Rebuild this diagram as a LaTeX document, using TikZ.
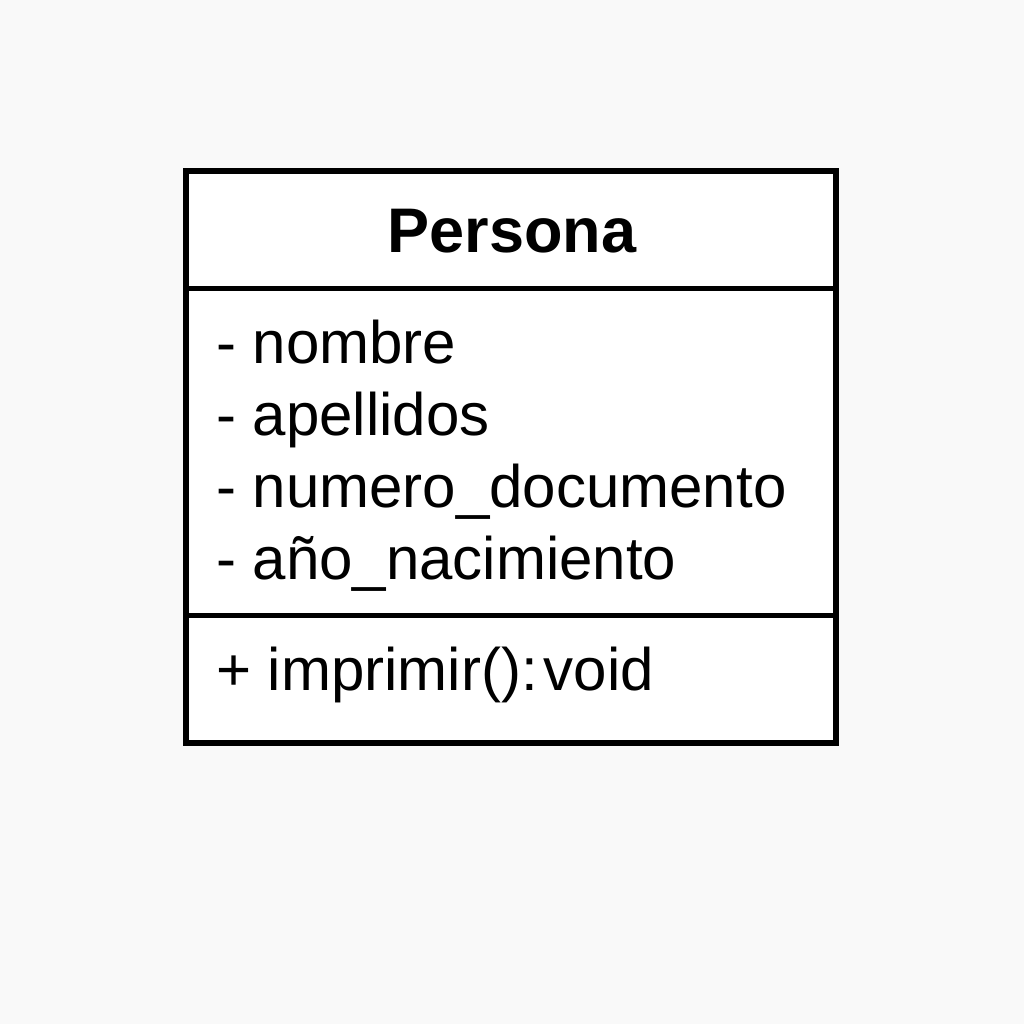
\documentclass[tikz,border=0pt]{standalone}
\usepackage{fontspec}
\setmainfont{Liberation Sans}
\definecolor{bgcol}{HTML}{F9F9F9}
\tikzset{
  part/.style={draw=black, line width=5.5pt, fill=white, minimum width=650pt, inner sep=0pt, outer sep=0pt},
  attr/.style={anchor=base west, inner sep=0pt, font=\fontsize{60}{72}\selectfont},
  title/.style={anchor=base, inner sep=0pt, font=\fontsize{63}{75}\selectfont\bfseries}
}
\begin{document}
\begin{tikzpicture}[x=1pt,y=-1pt]
\fill[bgcol] (0,0) rectangle (1024,1024);
\useasboundingbox (0,0) rectangle (1024,1024);
\node[part, minimum height=117.5pt] (head) at (511,229.75) {};
\node[part, minimum height=327pt] (attrs) at (511,452) {};
\node[part, minimum height=127.5pt] (meths) at (511,679.25) {};
\node[title] (name) at (512,252) {Persona};
\node[attr] (a1) at (216,363) {- nombre};
\node[attr] (a2) at (216,435) {- apellidos};
\node[attr] (a3) at (216,507) {- numero\_documento};
\node[attr] (a4) at (216,579) {- año\_nacimiento};
\node[attr] (m1) at (216,690) {+ imprimir():\hspace{0.1em}void};
\end{tikzpicture}
\end{document}
